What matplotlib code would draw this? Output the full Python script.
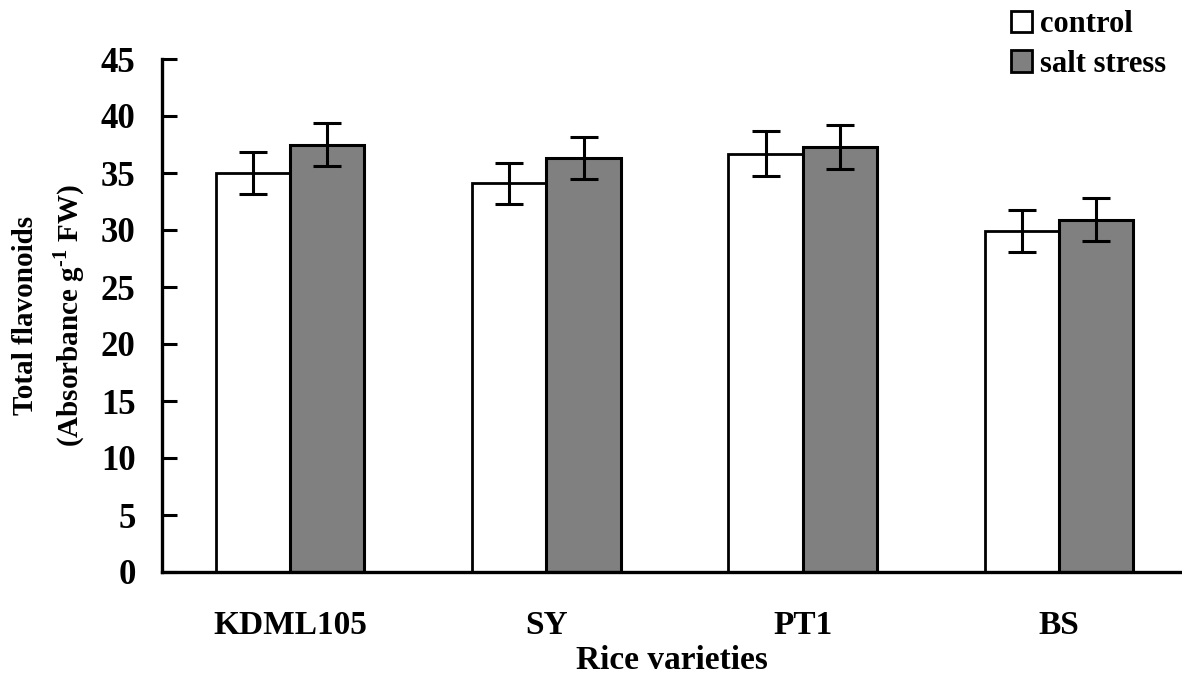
import matplotlib
matplotlib.use("Agg")
import matplotlib.pyplot as plt
from matplotlib.patches import Patch
import numpy as np

# data
varieties = ["KDML105", "SY", "PT1", "BS"]
control = [35.0, 34.1, 36.7, 29.9]
control_err = [1.85, 1.8, 1.95, 1.85]
salt = [37.5, 36.3, 37.3, 30.9]
salt_err = [1.9, 1.85, 1.95, 1.9]
yticks = [0, 5, 10, 15, 20, 25, 30, 35, 40, 45]

plt.rcParams["font.family"] = ["Liberation Serif", "DejaVu Serif"]
plt.rcParams["font.weight"] = "bold"
plt.rcParams["mathtext.fontset"] = "custom"
plt.rcParams["mathtext.rm"] = "Liberation Serif:bold"
plt.rcParams["mathtext.bf"] = "Liberation Serif:bold"

fig = plt.figure(figsize=(11.82, 6.75), dpi=100)
ax = fig.add_axes([162 / 1182, 103 / 675, 1020 / 1182, 513 / 675])

x = np.arange(len(varieties))
w = 0.29
ekw = dict(elinewidth=2.2, capthick=2.2)
ax.bar(x - w / 2, control, w, color="white", edgecolor="black", linewidth=2,
       yerr=control_err, capsize=10, error_kw=ekw, zorder=2)
ax.bar(x + w / 2, salt, w, color="#808080", edgecolor="black", linewidth=2.2,
       yerr=salt_err, capsize=10, error_kw=ekw, zorder=2)

ax.set_xlim(-0.5, 3.48)
ax.set_ylim(0, 45)
ax.set_yticks(yticks)
ax.set_xticks(x)
ax.set_xticklabels(varieties)

for s in ["top", "right"]:
    ax.spines[s].set_visible(False)
for s in ["left", "bottom"]:
    ax.spines[s].set_linewidth(2.4)

ax.tick_params(axis="y", direction="in", length=11, width=2.2, pad=19, labelsize=25)
ax.tick_params(axis="x", length=0, pad=27, labelsize=24)
for lab in ax.get_xticklabels() + ax.get_yticklabels():
    lab.set_fontweight("bold")

ax.set_xlabel("Rice varieties", fontsize=24, fontweight="bold", labelpad=3)
ax.set_ylabel("Total flavonoids\n(Absorbance g$^{\\text{-1}}$ FW)", fontsize=21,
              fontweight="bold", linespacing=1.45, labelpad=10)

handles = [Patch(facecolor="white", edgecolor="black", linewidth=2),
           Patch(facecolor="#808080", edgecolor="black", linewidth=2)]
fig.legend(handles, ["control", "salt stress"], loc="upper left",
           bbox_to_anchor=(1011 / 1182, 1 - 10 / 675), frameon=False,
           prop={"size": 22, "weight": "bold"}, handlelength=0.7,
           handleheight=0.7, handletextpad=0.25, labelspacing=0.35,
           borderpad=0, borderaxespad=0)

fig.savefig("out.png", dpi=100)
